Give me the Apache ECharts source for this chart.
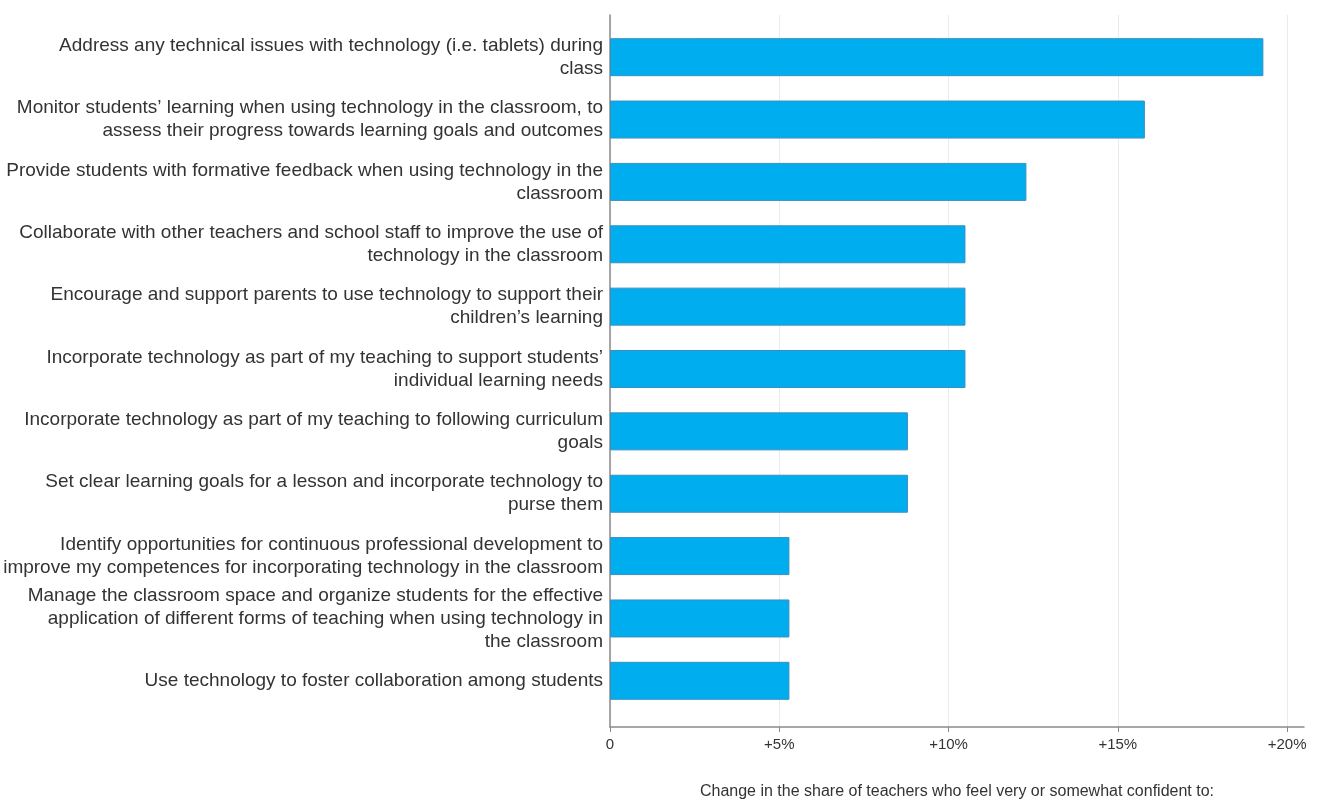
<!DOCTYPE html>
<html>
<head>
<meta charset="utf-8">
<script src="https://cdn.jsdelivr.net/npm/echarts@6/dist/echarts.min.js"></script>
<style>
  html, body { margin: 0; padding: 0; background: #fff; }
  #chart { width: 1319px; height: 801px; }
</style>
</head>
<body>
<div id="chart"></div>
<script>
// categories, top to bottom
var categories = [
    'Address any technical issues with technology (i.e. tablets) during\nclass',
    'Monitor students\u2019 learning when using technology in the classroom, to\nassess their progress towards learning goals and outcomes',
    'Provide students with formative feedback when using technology in the\nclassroom',
    'Collaborate with other teachers and school staff to improve the use of\ntechnology in the classroom',
    'Encourage and support parents to use technology to support their\nchildren\u2019s learning',
    'Incorporate technology as part of my teaching to support students\u2019\nindividual learning needs',
    'Incorporate technology as part of my teaching to following curriculum\ngoals',
    'Set clear learning goals for a lesson and incorporate technology to\npurse them',
    'Identify opportunities for continuous professional development to\nimprove my competences for incorporating technology in the classroom',
    'Manage the classroom space and organize students for the effective\napplication of different forms of teaching when using technology in\nthe classroom',
    'Use technology to foster collaboration among students'
];

// change in share (percentage points)
var changeValues = [19.3, 15.8, 12.3, 10.5, 10.5, 10.5, 8.8, 8.8, 5.3, 5.3, 5.3];

var tickValues = [0, 5, 10, 15, 20];
var tickLabels = ['0', '+5%', '+10%', '+15%', '+20%'];

var axisTitle = 'Change in the share of teachers who feel very or somewhat confident to:';

var FONT = '"Liberation Sans", Arial, sans-serif';
var X_MAX = 20.5;

var chart = echarts.init(document.getElementById('chart'));

var option = {
    animation: false,
    backgroundColor: '#ffffff',
    grid: [
        // bars
        { left: 610, right: 15, top: 26, height: 686, outerBoundsMode: 'none', containLabel: false },
        // frame: axes, ticks, gridlines
        { left: 610, right: 15, top: 15, bottom: 74, outerBoundsMode: 'none', containLabel: false }
    ],
    xAxis: [
        {
            gridIndex: 0, type: 'value', min: 0, max: X_MAX,
            show: false
        },
        {
            gridIndex: 1, type: 'value', min: 0, max: X_MAX,
            axisLine: { show: true, lineStyle: { color: '#8a8a8a', width: 1.5 } },
            axisTick: { show: true, length: 5, customValues: tickValues, lineStyle: { color: '#8a8a8a' } },
            splitLine: { show: true, lineStyle: { color: '#e6edf2', width: 1 } },
            axisLabel: {
                customValues: tickValues,
                margin: 10,
                fontFamily: FONT,
                fontSize: 15,
                color: '#333',
                formatter: function (v) {
                    var i = tickValues.indexOf(v);
                    return i >= 0 ? tickLabels[i] : '';
                }
            },
            name: axisTitle,
            nameLocation: 'middle',
            nameGap: 57,
            nameTextStyle: { fontFamily: FONT, fontSize: 16, color: '#333' }
        }
    ],
    yAxis: [
        {
            gridIndex: 0, type: 'category', data: categories, inverse: true,
            axisLine: { show: false },
            axisTick: { show: false },
            axisLabel: {
                margin: 7,
                fontFamily: FONT,
                fontSize: 19,
                lineHeight: 23,
                color: '#333',
                align: 'right'
            }
        },
        {
            gridIndex: 1, type: 'value', min: 0, max: 1,
            axisLine: { show: true, lineStyle: { color: '#8a8a8a', width: 1.5 } },
            axisTick: { show: false },
            axisLabel: { show: false },
            splitLine: { show: false }
        }
    ],
    series: [
        {
            type: 'bar',
            xAxisIndex: 0,
            yAxisIndex: 0,
            data: changeValues,
            barWidth: 38,
            itemStyle: {
                color: '#00aeef',
                borderColor: '#3b8fbf',
                borderWidth: 1
            }
        }
    ]
};

chart.setOption(option);
</script>
</body>
</html>
